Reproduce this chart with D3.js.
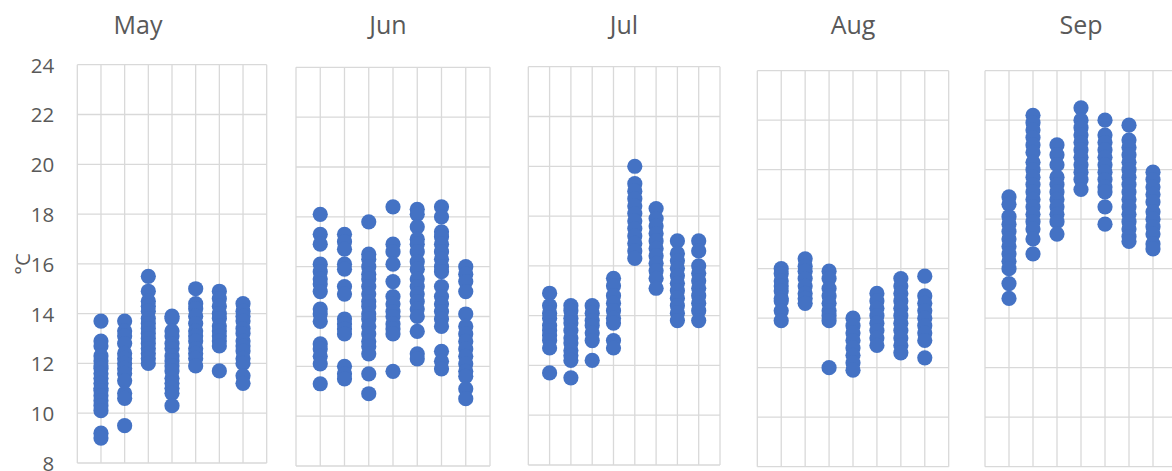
<!DOCTYPE html>
<html>
<head>
<meta charset="utf-8">
<script src="https://cdn.jsdelivr.net/npm/d3@7"></script>
<style>
  html, body { margin: 0; padding: 0; background: #ffffff; }
  svg { display: block; }
</style>
</head>
<body>
<svg id="chart" width="1172" height="471"></svg>
<script>
// Daily temperatures (°C), one small panel per month, one column of dots per group.
const months = ["May", "Jun", "Jul", "Aug", "Sep"];

const mayValues = [
  [13.7, 12.9, 12.7, 12.3, 12.1, 11.9, 11.8, 11.6, 11.4, 11.2, 11.0, 10.9, 10.7, 10.5, 10.3, 10.1, 9.2, 9.0],
  [13.7, 13.3, 13.1, 12.8, 12.4, 12.2, 12.0, 11.8, 11.6, 11.3, 10.8, 10.6, 9.5],
  [15.5, 14.9, 14.5, 14.3, 14.1, 13.8, 13.6, 13.4, 13.2, 13.0, 12.8, 12.6, 12.4, 12.2, 12.0],
  [13.9, 13.8, 13.3, 13.1, 12.8, 12.6, 12.3, 12.1, 11.9, 11.7, 11.4, 11.2, 11.0, 10.8, 10.3],
  [15.0, 14.4, 14.2, 13.9, 13.6, 13.3, 13.1, 12.9, 12.6, 12.4, 12.2, 11.9],
  [14.9, 14.6, 14.3, 14.0, 13.8, 13.5, 13.3, 13.1, 12.9, 12.7, 11.7],
  [14.4, 14.1, 13.9, 13.7, 13.4, 13.2, 12.9, 12.7, 12.5, 12.2, 12.0, 11.5, 11.2]
];

const junValues = [
  [18.1, 17.3, 16.9, 16.1, 15.8, 15.5, 15.3, 15.0, 14.3, 14.1, 13.8, 12.9, 12.7, 12.4, 12.1, 11.3],
  [17.3, 17.0, 16.7, 16.1, 15.9, 15.2, 14.9, 13.9, 13.7, 13.5, 13.3, 12.0, 11.7, 11.5],
  [17.8, 16.5, 16.3, 16.0, 15.7, 15.5, 15.2, 14.9, 14.6, 14.4, 14.1, 13.9, 13.6, 13.3, 13.0, 12.8, 12.5, 11.7, 10.9],
  [18.4, 16.9, 16.6, 16.1, 15.4, 14.8, 14.5, 14.2, 14.0, 13.7, 13.5, 13.3, 11.8],
  [18.3, 18.1, 17.6, 17.1, 16.9, 16.6, 16.2, 15.9, 15.5, 15.2, 14.9, 14.6, 14.3, 14.0, 13.4, 12.5, 12.3],
  [18.4, 18.0, 17.4, 17.2, 16.9, 16.6, 16.3, 16.0, 15.8, 15.2, 14.8, 14.5, 14.2, 13.9, 13.6, 12.6, 12.2, 11.9],
  [16.0, 15.7, 15.4, 15.0, 14.1, 13.6, 13.3, 13.0, 12.7, 12.4, 12.1, 11.8, 11.6, 11.1, 10.7]
];

const julValues = [
  [14.9, 14.4, 14.1, 13.9, 13.6, 13.4, 13.2, 13.0, 12.7, 11.7],
  [14.4, 14.2, 13.9, 13.7, 13.4, 13.1, 12.9, 12.6, 12.4, 12.2, 11.5],
  [14.4, 14.1, 13.8, 13.6, 13.3, 13.0, 12.2],
  [15.5, 15.2, 14.8, 14.5, 14.2, 13.9, 13.7, 13.0, 12.7],
  [20.0, 19.3, 19.0, 18.7, 18.4, 18.1, 17.8, 17.5, 17.2, 16.9, 16.6, 16.3],
  [18.3, 17.9, 17.6, 17.3, 17.0, 16.7, 16.4, 16.1, 15.8, 15.5, 15.1],
  [17.0, 16.5, 16.2, 15.9, 15.6, 15.3, 15.0, 14.7, 14.4, 14.1, 13.8],
  [17.0, 16.6, 16.0, 15.7, 15.4, 15.1, 14.8, 14.5, 14.2, 13.8]
];

const augValues = [
  [16.0, 15.8, 15.5, 15.3, 15.1, 14.8, 14.7, 14.3, 13.9],
  [16.4, 16.1, 15.9, 15.6, 15.3, 15.0, 14.8, 14.6],
  [15.9, 15.6, 15.2, 14.9, 14.6, 14.3, 14.1, 13.9, 12.0],
  [14.0, 13.7, 13.4, 13.1, 12.8, 12.5, 12.2, 11.9],
  [15.0, 14.7, 14.4, 14.1, 13.8, 13.5, 13.2, 12.9],
  [15.6, 15.3, 15.0, 14.7, 14.4, 14.1, 13.8, 13.5, 13.2, 12.9, 12.6],
  [15.7, 14.9, 14.6, 14.3, 14.0, 13.7, 13.4, 13.1, 12.4]
];

const sepValues = [
  [18.9, 18.6, 18.1, 17.8, 17.5, 17.2, 16.9, 16.6, 16.3, 16.0, 15.4, 14.8],
  [22.2, 21.9, 21.6, 21.3, 21.0, 20.7, 20.3, 20.0, 19.7, 19.4, 19.1, 18.8, 18.5, 18.2, 17.9, 17.6, 17.2, 16.6],
  [21.0, 20.6, 20.2, 19.7, 19.4, 19.1, 18.8, 18.5, 18.2, 17.9, 17.4],
  [22.5, 22.0, 21.7, 21.4, 21.1, 20.8, 20.5, 20.2, 19.9, 19.6, 19.2],
  [22.0, 21.4, 21.1, 20.8, 20.5, 20.2, 19.9, 19.6, 19.3, 19.1, 18.5, 17.8],
  [21.8, 21.2, 20.9, 20.6, 20.3, 20.0, 19.7, 19.4, 19.1, 18.8, 18.5, 18.2, 17.9, 17.6, 17.3, 17.1],
  [19.9, 19.6, 19.3, 19.0, 18.7, 18.3, 18.0, 17.7, 17.4, 17.0, 16.8]
];

const yTicks = [8, 10, 12, 14, 16, 18, 20, 22, 24];
const yUnit = "°C";

// Plot rectangles of the five small panels (left, right, top, bottom).
const panelBoxes = [
  { x0: 77.3,  x1: 266.7, y0: 64.7, y1: 463.0 },
  { x0: 296.0, x1: 490.0, y0: 67.3, y1: 466.0 },
  { x0: 528.3, x1: 720.0, y0: 66.7, y1: 465.0 },
  { x0: 757.3, x1: 948.7, y0: 70.7, y1: 466.7 },
  { x0: 985.0, x1: 1177.0, y0: 70.7, y1: 466.7 }
];
const titleX = [138, 388, 624, 853, 1081];

const seriesByMonth = [mayValues, junValues, julValues, augValues, sepValues];

const GRID = "#d9d9d9";
const TEXT = "#595959";
const DOT = "#4472c4";
const FONT = "'Open Sans', 'Liberation Sans', sans-serif";

const svg = d3.select("#chart");

months.forEach((month, i) => {
  const box = panelBoxes[i];
  const groups = seriesByMonth[i];
  const n = groups.length;

  const x = d3.scaleLinear().domain([0, n + 1]).range([box.x0, box.x1]);
  const y = d3.scaleLinear().domain([8, 24]).range([box.y1, box.y0]);

  const g = svg.append("g").attr("class", "panel");

  // horizontal gridlines
  g.selectAll("line.h")
    .data(yTicks)
    .join("line")
    .attr("class", "h")
    .attr("x1", box.x0).attr("x2", box.x1)
    .attr("y1", d => y(d)).attr("y2", d => y(d))
    .attr("stroke", GRID).attr("stroke-width", 1.3);

  // vertical gridlines
  g.selectAll("line.v")
    .data(d3.range(0, n + 2))
    .join("line")
    .attr("class", "v")
    .attr("x1", d => x(d)).attr("x2", d => x(d))
    .attr("y1", box.y0).attr("y2", box.y1)
    .attr("stroke", GRID).attr("stroke-width", 1.3);

  // title
  svg.append("text")
    .attr("x", titleX[i]).attr("y", 34.3)
    .attr("text-anchor", "middle")
    .attr("font-family", FONT).attr("font-size", 25)
    .attr("fill", TEXT)
    .text(month);

  // dots
  const points = [];
  groups.forEach((vals, k) => vals.forEach(v => points.push({ col: k + 1, v })));
  g.selectAll("circle")
    .data(points)
    .join("circle")
    .attr("cx", d => x(d.col))
    .attr("cy", d => y(d.v))
    .attr("r", 7.6)
    .attr("fill", DOT);

  // value axis only on the first panel
  if (i === 0) {
    const axis = d3.axisLeft(y).tickValues(yTicks).tickSize(0).tickPadding(0);
    const ax = svg.append("g")
      .attr("transform", `translate(${box.x0 - 23},0)`)
      .call(axis);
    ax.select(".domain").remove();
    ax.selectAll("text")
      .attr("font-family", FONT).attr("font-size", 20.5)
      .attr("fill", TEXT).attr("dy", "0.36em");

    svg.append("text")
      .attr("transform", `translate(30,${(box.y0 + box.y1) / 2}) rotate(-90)`)
      .attr("text-anchor", "middle")
      .attr("font-family", FONT).attr("font-size", 20.5)
      .attr("fill", TEXT)
      .text(yUnit);
  }
});
</script>
</body>
</html>
